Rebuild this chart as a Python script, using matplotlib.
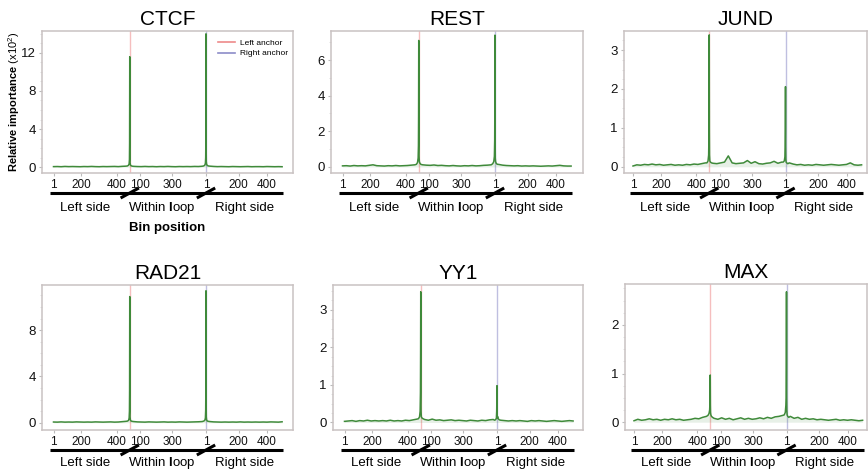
import numpy as np
import matplotlib
matplotlib.use("Agg")
import matplotlib.pyplot as plt
from matplotlib.ticker import MultipleLocator
from matplotlib.transforms import blended_transform_factory
from matplotlib.lines import Line2D

plt.rcParams["font.family"] = ["Liberation Sans", "DejaVu Sans"]
plt.rcParams["mathtext.fontset"] = "custom"
plt.rcParams["mathtext.rm"] = "Liberation Sans"
plt.rcParams["mathtext.it"] = "Liberation Sans:italic"
plt.rcParams["mathtext.bf"] = "Liberation Sans:bold"

# ---- bin layout: left flank (500 bins), loop interior, right flank ----
LEFT_ANCHOR = 500
RIGHT_ANCHOR = 1000
left_bins = np.arange(0, 500, 25)
within_bins = np.arange(525, 1000, 25)
right_bins = np.append(np.arange(1025, 1500, 25), 1499)
anchor_offsets = np.array([-15, -8, -4, -2, -1, 0, 1, 2, 4, 8, 15])

xtick_pos = [0, 183, 415, 570, 780, 1000, 1215, 1400]
xtick_labels = ["1", "200", "400", "100", "300", "1", "200", "400"]

# ---- relative importance (x10^2) per factor ----
ctcf_left = [0.05, 0.06, 0.04, 0.07, 0.05, 0.06, 0.05, 0.04, 0.06, 0.05,
             0.07, 0.05, 0.04, 0.06, 0.05, 0.06, 0.07, 0.05, 0.08, 0.10]
ctcf_lpeak = [0.12, 0.2, 0.35, 0.8, 2.5, 11.6, 1.8, 0.5, 0.25, 0.15, 0.1]
ctcf_within = [0.08, 0.06, 0.05, 0.07, 0.05, 0.06, 0.04, 0.06, 0.05, 0.07,
               0.05, 0.04, 0.06, 0.05, 0.06, 0.05, 0.07, 0.06, 0.09]
ctcf_rpeak = [0.12, 0.2, 0.4, 1.0, 3.0, 14.0, 2.2, 0.6, 0.3, 0.18, 0.12]
ctcf_right = [0.10, 0.07, 0.05, 0.06, 0.05, 0.04, 0.06, 0.05, 0.04, 0.05,
              0.06, 0.04, 0.05, 0.05, 0.04, 0.06, 0.05, 0.04, 0.05, 0.04]

rest_left = [0.06, 0.07, 0.05, 0.08, 0.06, 0.07, 0.06, 0.09, 0.12, 0.07,
             0.06, 0.05, 0.07, 0.06, 0.08, 0.06, 0.07, 0.08, 0.10, 0.12]
rest_lpeak = [0.15, 0.25, 0.5, 1.2, 2.9, 7.1, 2.6, 0.6, 0.3, 0.2, 0.14]
rest_within = [0.12, 0.10, 0.09, 0.11, 0.08, 0.09, 0.07, 0.06, 0.08, 0.06,
               0.05, 0.07, 0.06, 0.08, 0.06, 0.07, 0.09, 0.10, 0.12]
rest_rpeak = [0.18, 0.3, 0.6, 1.5, 3.5, 7.4, 1.6, 0.5, 0.3, 0.2, 0.15]
rest_right = [0.14, 0.10, 0.08, 0.07, 0.06, 0.07, 0.05, 0.06, 0.05, 0.06,
              0.05, 0.04, 0.05, 0.06, 0.05, 0.07, 0.09, 0.06, 0.05, 0.05]

jund_left = [0.02, 0.05, 0.04, 0.06, 0.05, 0.07, 0.05, 0.06, 0.04, 0.05,
             0.06, 0.04, 0.05, 0.04, 0.06, 0.05, 0.07, 0.06, 0.08, 0.10]
jund_lpeak = [0.10, 0.15, 0.3, 0.8, 1.6, 3.39, 0.9, 0.3, 0.15, 0.12, 0.10]
jund_within = [0.09, 0.08, 0.10, 0.12, 0.28, 0.10, 0.08, 0.09, 0.10, 0.16,
               0.09, 0.13, 0.08, 0.07, 0.09, 0.10, 0.14, 0.09, 0.12]
jund_rpeak = [0.12, 0.15, 0.25, 0.5, 1.0, 2.06, 0.5, 0.2, 0.12, 0.10, 0.08]
jund_right = [0.10, 0.07, 0.05, 0.06, 0.04, 0.05, 0.04, 0.06, 0.05, 0.04,
              0.05, 0.06, 0.05, 0.04, 0.05, 0.06, 0.10, 0.05, 0.04, 0.05]

rad21_left = [0.06, 0.05, 0.07, 0.05, 0.06, 0.05, 0.07, 0.06, 0.05, 0.06,
              0.05, 0.07, 0.06, 0.05, 0.06, 0.07, 0.05, 0.06, 0.09, 0.12]
rad21_lpeak = [0.14, 0.2, 0.4, 1.0, 2.8, 10.9, 2.0, 0.5, 0.25, 0.15, 0.12]
rad21_within = [0.10, 0.07, 0.06, 0.05, 0.07, 0.06, 0.05, 0.06, 0.07, 0.05,
                0.06, 0.05, 0.07, 0.06, 0.05, 0.06, 0.07, 0.08, 0.10]
rad21_rpeak = [0.14, 0.2, 0.4, 1.1, 3.0, 11.4, 2.1, 0.5, 0.25, 0.15, 0.12]
rad21_right = [0.10, 0.07, 0.06, 0.05, 0.06, 0.05, 0.06, 0.05, 0.07, 0.05,
               0.06, 0.05, 0.06, 0.05, 0.06, 0.05, 0.07, 0.06, 0.05, 0.08]

yy1_left = [0.03, 0.04, 0.05, 0.03, 0.05, 0.04, 0.06, 0.04, 0.05, 0.04,
            0.05, 0.04, 0.06, 0.04, 0.05, 0.04, 0.06, 0.05, 0.07, 0.09]
yy1_lpeak = [0.10, 0.15, 0.3, 0.8, 1.8, 3.48, 1.0, 0.3, 0.15, 0.12, 0.10]
yy1_within = [0.08, 0.06, 0.09, 0.06, 0.07, 0.05, 0.06, 0.07, 0.05, 0.06,
              0.05, 0.04, 0.06, 0.05, 0.04, 0.06, 0.05, 0.07, 0.08]
yy1_rpeak = [0.06, 0.08, 0.12, 0.3, 0.6, 0.98, 0.15, 0.12, 0.16, 0.10, 0.07]
yy1_right = [0.06, 0.05, 0.04, 0.05, 0.04, 0.05, 0.04, 0.03, 0.05, 0.04,
             0.05, 0.04, 0.03, 0.04, 0.05, 0.04, 0.03, 0.04, 0.05, 0.04]

max_left = [0.03, 0.06, 0.04, 0.05, 0.07, 0.05, 0.06, 0.04, 0.06, 0.05,
            0.07, 0.05, 0.06, 0.04, 0.05, 0.06, 0.08, 0.07, 0.10, 0.12]
max_lpeak = [0.14, 0.18, 0.25, 0.4, 0.6, 0.97, 0.35, 0.2, 0.15, 0.12, 0.10]
max_within = [0.08, 0.06, 0.09, 0.06, 0.08, 0.05, 0.07, 0.09, 0.06, 0.08,
              0.06, 0.07, 0.09, 0.07, 0.10, 0.08, 0.11, 0.12, 0.14]
max_rpeak = [0.15, 0.2, 0.35, 0.5, 1.2, 2.68, 0.5, 0.25, 0.15, 0.12, 0.10]
max_right = [0.12, 0.08, 0.10, 0.06, 0.08, 0.06, 0.07, 0.05, 0.06, 0.05,
             0.04, 0.05, 0.06, 0.04, 0.05, 0.04, 0.05, 0.04, 0.03, 0.04]

factor_names = ["CTCF", "REST", "JUND", "RAD21", "YY1", "MAX"]
factor_series = [
    (ctcf_left, ctcf_lpeak, ctcf_within, ctcf_rpeak, ctcf_right),
    (rest_left, rest_lpeak, rest_within, rest_rpeak, rest_right),
    (jund_left, jund_lpeak, jund_within, jund_rpeak, jund_right),
    (rad21_left, rad21_lpeak, rad21_within, rad21_rpeak, rad21_right),
    (yy1_left, yy1_lpeak, yy1_within, yy1_rpeak, yy1_right),
    (max_left, max_lpeak, max_within, max_rpeak, max_right),
]
ylims = [(-0.62, 14.3), (-0.34, 7.63), (-0.16, 3.49),
         (-0.63, 11.9), (-0.2, 3.66), (-0.16, 2.84)]
yticks = [[0, 4, 8, 12], [0, 2, 4, 6], [0, 1, 2, 3],
          [0, 4, 8], [0, 1, 2, 3], [0, 1, 2]]
yminor = [1, 1, 0.25, 1, 0.25, 0.25]

# axes boxes in pixels: left, top, right, bottom
W, H = 868, 472
boxes = [(42, 31, 293, 173), (331, 31, 583, 173), (624, 31, 867, 173),
         (42, 285, 293, 430), (333, 285, 583, 430), (625, 284, 867, 430)]
first_bin_offset = [11.5, 11.5, 9.0, 11.5, 11.5, 9.0]
PX_PER_BIN = 0.1525

GREEN = "#3f8a3a"
FRAME = "#c9c2c2"
LEFT_COL = "#ee8a8a"
RIGHT_COL = "#8c8cc8"

fig = plt.figure(figsize=(W / 100, H / 100), dpi=100)

for i, (name, parts) in enumerate(zip(factor_names, factor_series)):
    l, t, r, b = boxes[i]
    ax = fig.add_axes([l / W, 1 - b / H, (r - l) / W, (b - t) / H])
    left_v, lpeak_v, within_v, rpeak_v, right_v = parts
    x = np.concatenate([left_bins, LEFT_ANCHOR + anchor_offsets, within_bins,
                        RIGHT_ANCHOR + anchor_offsets, right_bins])
    y = np.concatenate([left_v, lpeak_v, within_v, rpeak_v, right_v])

    ax.axvline(LEFT_ANCHOR, color=LEFT_COL, lw=1.0, alpha=0.55, zorder=1)
    ax.axvline(RIGHT_ANCHOR, color=RIGHT_COL, lw=1.0, alpha=0.55, zorder=1)
    ax.fill_between(x, 0, y, color=GREEN, alpha=0.12, lw=0, zorder=2)
    ax.plot(x, y, color=GREEN, lw=1.1, zorder=3)

    x0 = -first_bin_offset[i] / PX_PER_BIN
    ax.set_xlim(x0, x0 + (r - l) / PX_PER_BIN)
    ax.set_ylim(*ylims[i])
    ax.set_yticks(yticks[i])
    ax.yaxis.set_minor_locator(MultipleLocator(yminor[i]))
    ax.set_xticks(xtick_pos)
    ax.set_xticklabels(xtick_labels)
    ax.tick_params(axis="both", which="major", length=2.5,
                   width=0.8, color="#bbbbbb", pad=2, labelcolor="#111111")
    ax.tick_params(axis="x", labelsize=8.5)
    ax.tick_params(axis="y", labelsize=9.5)
    ax.tick_params(axis="y", which="minor", length=1.5, width=0.6,
                   color="#dddddd")
    for sp in ax.spines.values():
        sp.set_color(FRAME)
        sp.set_linewidth(1.1)
    ax.set_title(name, fontsize=15, pad=4)

    # segment bar with break marks and region names under the axis
    hpx = b - t
    tr = blended_transform_factory(ax.transData, ax.transAxes)
    bar_y = -20 / hpx
    ax.plot([-20, 1505], [bar_y, bar_y], color="black", lw=2.2,
            transform=tr, clip_on=False, solid_capstyle="butt")
    for anc in (LEFT_ANCHOR, RIGHT_ANCHOR):
        ax.plot([anc - 60, anc + 60], [bar_y - 5 / hpx, bar_y + 5 / hpx],
                color="black", lw=2.2, transform=tr, clip_on=False,
                solid_capstyle="butt")
    lab_y = -35 / hpx if i < 3 else -33 / hpx
    ax.text(208, lab_y, "Left side", transform=tr, ha="center",
            va="center", fontsize=9.5)
    ax.text(713, lab_y, r"Within $\mathbf{l}$oop", transform=tr,
            ha="center", va="center", fontsize=9.5)
    ax.text(1250, lab_y, "Right side", transform=tr, ha="center",
            va="center", fontsize=9.5)

    if i == 0:
        ax.text(746, -55 / hpx, "Bin position", transform=tr, ha="center",
                va="center", fontsize=9.5, fontweight="bold")
        handles = [Line2D([], [], color=LEFT_COL, lw=1.2),
                   Line2D([], [], color=RIGHT_COL, lw=1.2)]
        ax.legend(handles, ["Left anchor", "Right anchor"], loc="upper right",
                  bbox_to_anchor=(1.0, 0.98), fontsize=6, frameon=False,
                  handlelength=2.0, handletextpad=0.6, labelspacing=0.35,
                  borderaxespad=0.2)

fig.text(14 / W, 1 - 102 / H,
         r"$\mathbf{Relative\ importance}$ (x10$^2$)",
         rotation=90, ha="center", va="center", fontsize=8)

fig.savefig("out.png", dpi=100)
